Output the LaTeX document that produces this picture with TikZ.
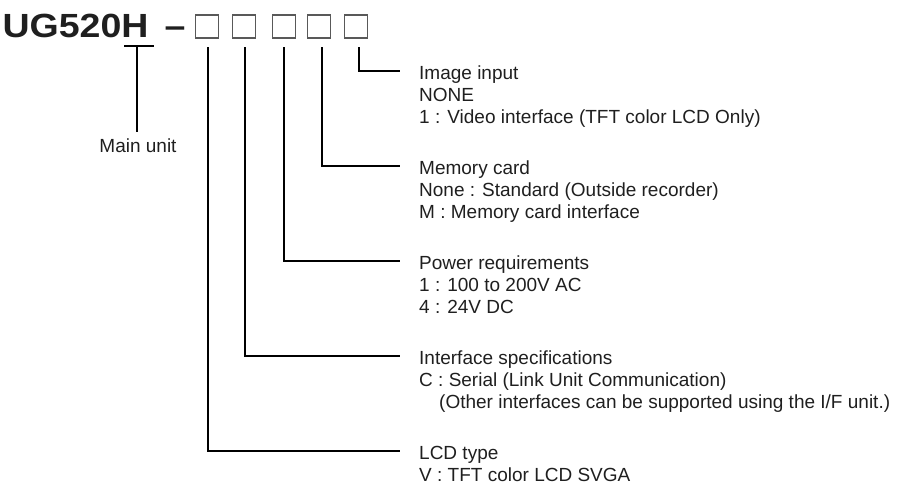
\documentclass[tikz,border=0pt]{standalone}
\usepackage{graphicx}
\usepackage{fontspec}
\setmainfont{Liberation Sans}
\begin{document}
\begin{tikzpicture}[x=1pt,y=-1pt,
  codebox/.style={draw=black!65,line width=1.3pt,minimum size=23pt,inner sep=0pt},
  lead/.style={line width=1.9pt,black},
  lbl/.style={anchor=base west,inner sep=0pt,font=\fontsize{19}{22}\selectfont,text=black!88},
  ttl/.style={anchor=base west,inner sep=0pt,font=\fontsize{33.5}{40}\bfseries\selectfont,text=black!88}]
\useasboundingbox (0,0) rectangle (899,491);
% title
\node[ttl] (title) at (2.4,37) {\scalebox{1.12}[1]{UG520H}};
\node[ttl] (dash) at (164.5,37) {\scalebox{1.12}[1]{–}};
% code boxes
\node[codebox] (b1) at (207,26.5) {};
\node[codebox] (b2) at (243.7,26.5) {};
\node[codebox] (b3) at (283.8,26.5) {};
\node[codebox] (b4) at (319.2,26.5) {};
\node[codebox] (b5) at (356,26.5) {};
% main unit
\coordinate (ul) at (124,46);
\coordinate (ur) at (154,46);
\coordinate (uc) at (137,46);
\node[lbl,anchor=base] (main) at (138,152) {Main unit};
\coordinate (me) at (137,132);
\draw[lead] (ul) -- (ur);
\draw[lead] (uc) -- (me);
% line tops
\coordinate (t1) at (208.3,47);
\coordinate (t2) at (245,47);
\coordinate (t3) at (284.3,47);
\coordinate (t4) at (321.7,47);
\coordinate (t5) at (359,47);
% line ends
\coordinate (e5) at (400,71);
\coordinate (e4) at (400,166);
\coordinate (e3) at (400,261);
\coordinate (e2) at (400,356);
\coordinate (e1) at (400,451);
\draw[lead] (t5) |- (e5);
\draw[lead] (t4) |- (e4);
\draw[lead] (t3) |- (e3);
\draw[lead] (t2) |- (e2);
\draw[lead] (t1) |- (e1);
% labels
\node[lbl] (l5a) at (419,79) {Image input};
\node[lbl] (l5b) at (419,101) {NONE};
\node[lbl] (l5c) at (419,123) {1 : Video interface (TFT color LCD Only)};
\node[lbl] (l4a) at (419,174) {Memory card};
\node[lbl] (l4b) at (419,196) {None : Standard (Outside recorder)};
\node[lbl] (l4c) at (419,218) {M : Memory card interface};
\node[lbl] (l3a) at (419,269) {Power requirements};
\node[lbl] (l3b) at (419,291) {1 : 100 to 200V AC};
\node[lbl] (l3c) at (419,313) {4 : 24V DC};
\node[lbl] (l2a) at (419,364) {Interface specifications};
\node[lbl] (l2b) at (419,386) {C : Serial (Link Unit Communication)};
\node[lbl] (l2c) at (439,408) {(Other interfaces can be supported using the I/F unit.)};
\node[lbl] (l1a) at (419,459) {LCD type};
\node[lbl] (l1b) at (419,481) {V : TFT color LCD SVGA};
\end{tikzpicture}
\end{document}
